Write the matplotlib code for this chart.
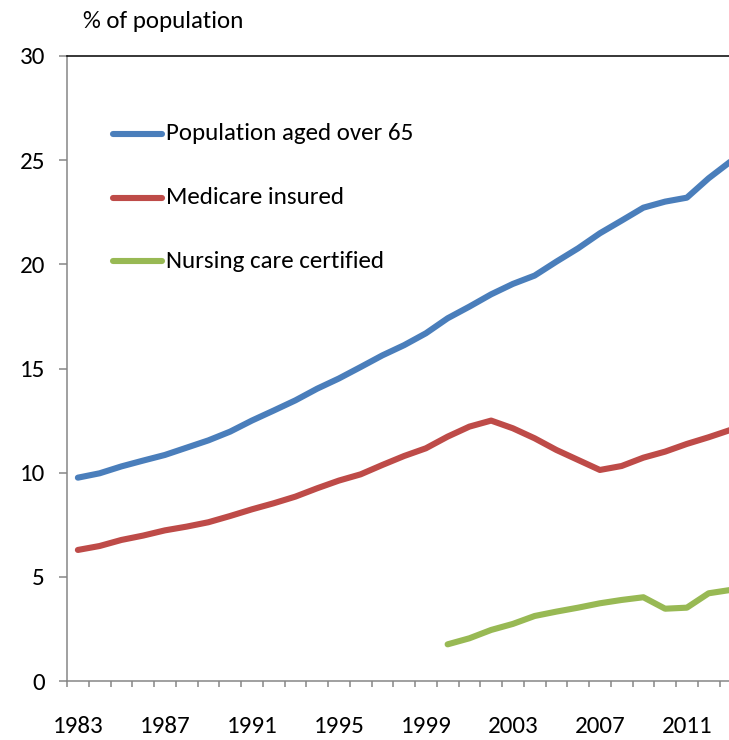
import matplotlib

matplotlib.use("Agg")
import matplotlib.pyplot as plt
from matplotlib.lines import Line2D
import numpy as np

# values (% of population)
years = list(range(1983, 2014))
aged_over_65 = [9.76, 9.97, 10.3, 10.58, 10.85, 11.2, 11.55, 11.97, 12.5, 12.98,
                13.47, 14.03, 14.52, 15.07, 15.63, 16.12, 16.69, 17.41, 17.97, 18.56,
                19.06, 19.46, 20.13, 20.77, 21.49, 22.1, 22.72, 23.01, 23.2, 24.13, 24.93]
medicare = [6.29, 6.48, 6.77, 6.98, 7.23, 7.41, 7.62, 7.92, 8.24, 8.53,
            8.85, 9.25, 9.62, 9.92, 10.37, 10.8, 11.17, 11.73, 12.21, 12.5,
            12.13, 11.65, 11.09, 10.61, 10.13, 10.32, 10.72, 11.01, 11.38, 11.7, 12.05]
nursing_years = list(range(2000, 2014))
nursing = [1.76, 2.05, 2.45, 2.74, 3.12, 3.33, 3.52, 3.73, 3.89, 4.02, 3.47, 3.52, 4.21, 4.37]

labels = ["Population aged over 65", "Medicare insured", "Nursing care certified"]
colors = ["#4A7EBB", "#BE4B48", "#98B954"]
yticks = [0, 5, 10, 15, 20, 25, 30]

# Carlito is metric-compatible with Calibri, which the original uses
plt.rcParams["font.family"] = ["Carlito", "DejaVu Sans"]
FS = 18

W, H = 729, 740
fig = plt.figure(figsize=(W / 100, H / 100), dpi=100)
# category axis: 21.75 px per year, plot area starts at x=67 and runs past the right edge
cat_w = 21.75
n_cat = 32
ax = fig.add_axes([67 / W, (H - 681) / H, n_cat * cat_w / W, (681 - 56) / H])

idx = {y: i for i, y in enumerate(years)}
x_main = [idx[y] for y in years]
x_nurse = [idx[y] for y in nursing_years]
series = [(x_main, aged_over_65), (x_main, medicare), (x_nurse, nursing)]
for (xs, ys), c in zip(series, colors):
    ax.plot(xs, ys, color=c, lw=4.4, solid_capstyle="round", solid_joinstyle="round")

ax.set_xlim(-0.5, n_cat - 0.5)
ax.set_ylim(0, 30)

# y axis
ax.set_yticks(yticks)
ax.set_yticklabels([str(v) for v in yticks], fontsize=FS)
ax.tick_params(axis="y", direction="out", length=5.8, width=1.1, color="#868686", pad=10)

# x axis: ticks between categories, labels every 4 years on the categories
ax.set_xticks(np.arange(-0.5, n_cat, 1))
ax.set_xticklabels([])
ax.tick_params(axis="x", which="major", direction="out", length=4.5, width=1.1, color="#868686")
lab_pos = list(range(0, len(years), 4))
ax.set_xticks(lab_pos, minor=True)
ax.set_xticklabels([str(years[i]) for i in lab_pos], minor=True, fontsize=FS)
ax.tick_params(axis="x", which="minor", length=0, pad=25)

for side in ["left", "bottom"]:
    ax.spines[side].set_color("#868686")
    ax.spines[side].set_linewidth(1.1)
ax.spines["top"].set_color("#000000")
ax.spines["top"].set_linewidth(1.1)
ax.spines["right"].set_visible(False)

# legend drawn by hand to match the original placement
leg_y = [134, 198, 261]
for lab, c, yy in zip(labels, colors, leg_y):
    fig.add_artist(Line2D([113 / W, 162 / W], [1 - yy / H, 1 - yy / H], color=c, lw=4.4,
                          solid_capstyle="round"))
    fig.text(166 / W, 1 - yy / H, lab, fontsize=FS, va="center", ha="left")

fig.text(83 / W, 1 - 22 / H, "% of population", fontsize=FS, va="center", ha="left")

fig.savefig("out.png", dpi=100)
